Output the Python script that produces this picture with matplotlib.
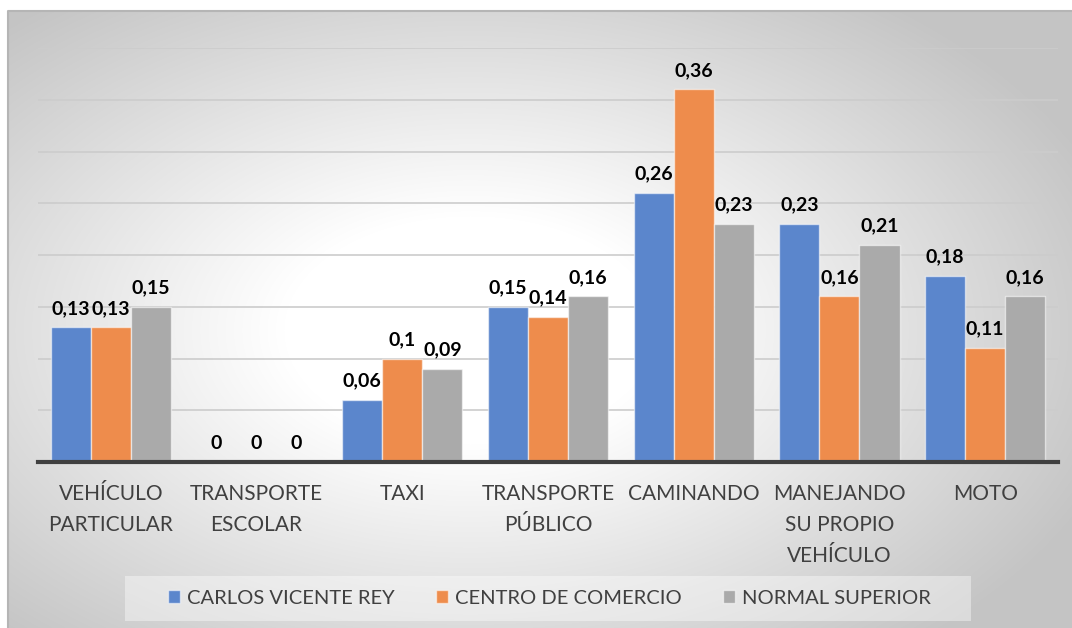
import numpy as np
import matplotlib.pyplot as plt
from matplotlib.patches import Rectangle

categories = ["VEHÍCULO\nPARTICULAR", "TRANSPORTE\nESCOLAR", "TAXI",
              "TRANSPORTE\nPÚBLICO", "CAMINANDO", "MANEJANDO\nSU PROPIO\nVEHÍCULO", "MOTO"]
series_names = ["CARLOS VICENTE REY", "CENTRO DE COMERCIO", "NORMAL SUPERIOR"]
carlos_vicente_rey = [0.13, 0, 0.06, 0.15, 0.26, 0.23, 0.18]
centro_de_comercio = [0.13, 0, 0.10, 0.14, 0.36, 0.16, 0.11]
normal_superior = [0.15, 0, 0.09, 0.16, 0.23, 0.21, 0.16]
series_values = [carlos_vicente_rey, centro_de_comercio, normal_superior]
colors = ["#5b86cc", "#ee8c4c", "#aaaaaa"]

plt.rcParams['font.family'] = ['Lato', 'DejaVu Sans']

W, H = 1072, 628
fig = plt.figure(figsize=(W / 100, H / 100), dpi=100)
fig.patch.set_facecolor("white")

# chart-area background: soft radial gradient, white centre to grey edges
bg = fig.add_axes([8 / W, 0, (W - 8) / W, (H - 11) / H])
bg.set_axis_off()
yy, xx = np.mgrid[11:H, 8:W]
r = np.sqrt(((xx - 470) / 620.0) ** 2 + ((yy - 330) / 380.0) ** 2)
t = np.clip((r - 0.3) / 0.8, 0, 1)
shade = 1.0 - (1.0 - 0xc4 / 255) * t
img = np.dstack([shade, shade, shade])
bg.imshow(img, aspect="auto", extent=[0, 1, 0, 1], interpolation="bilinear")
bg.set_xlim(0, 1)
bg.set_ylim(0, 1)
bg.plot([0, 0, 1], [0, 1, 1], color="#b5b5b5", lw=1.5, transform=bg.transAxes, clip_on=False)

ax = fig.add_axes([38 / W, 1 - 462 / H, (1058 - 38) / W, (462 - 48) / H])
ax.patch.set_alpha(0)
ax.set_ylim(0, 0.40)
ax.set_xlim(-0.5, len(categories) - 0.5)
for s in ["top", "right", "left"]:
    ax.spines[s].set_visible(False)
ax.spines["bottom"].set_color("#404040")
ax.spines["bottom"].set_linewidth(3)
ax.spines["bottom"].set_zorder(5)
ax.set_yticks(np.arange(0.05, 0.401, 0.05))
ax.tick_params(axis="y", left=False, labelleft=False)
ax.grid(axis="y", color="#cccccc", lw=1.2)
ax.set_axisbelow(True)

x = np.arange(len(categories))
bw = 0.275
for i, (name, vals, col) in enumerate(zip(series_names, series_values, colors)):
    pos = x + (i - 1) * bw
    bars = ax.bar(pos, vals, bw, color=col, edgecolor=(1, 1, 1, 0.55), linewidth=1.0,
                  label=name, zorder=3)
    for b, v in zip(bars, vals):
        txt = ("%.2f" % v).rstrip("0").rstrip(".").replace(".", ",")
        ax.annotate(txt, (b.get_x() + b.get_width() / 2, v), xytext=(0, 7.5),
                    textcoords="offset points", ha="center", va="bottom",
                    fontsize=14, fontweight="bold", color="black")

ax.set_xticks(x)
ax.set_xticklabels(categories, fontsize=15, color="#404040", linespacing=1.7)
ax.tick_params(axis="x", bottom=False, pad=12)

# legend panel
fig.patches.append(Rectangle((125 / W, 1 - 621 / H), (971 - 125) / W, 45 / H,
                             transform=fig.transFigure, facecolor=(1, 1, 1, 0.4),
                             edgecolor="none", zorder=1))
leg = fig.legend(loc="center left", bbox_to_anchor=(146 / W, 1 - 598 / H), ncol=3,
                 fontsize=14.5, frameon=False, handlelength=0.6, handleheight=0.6,
                 handletextpad=0.35, columnspacing=2.05, borderpad=0.6,
                 labelcolor="#404040")

fig.savefig("out.png", dpi=100)
